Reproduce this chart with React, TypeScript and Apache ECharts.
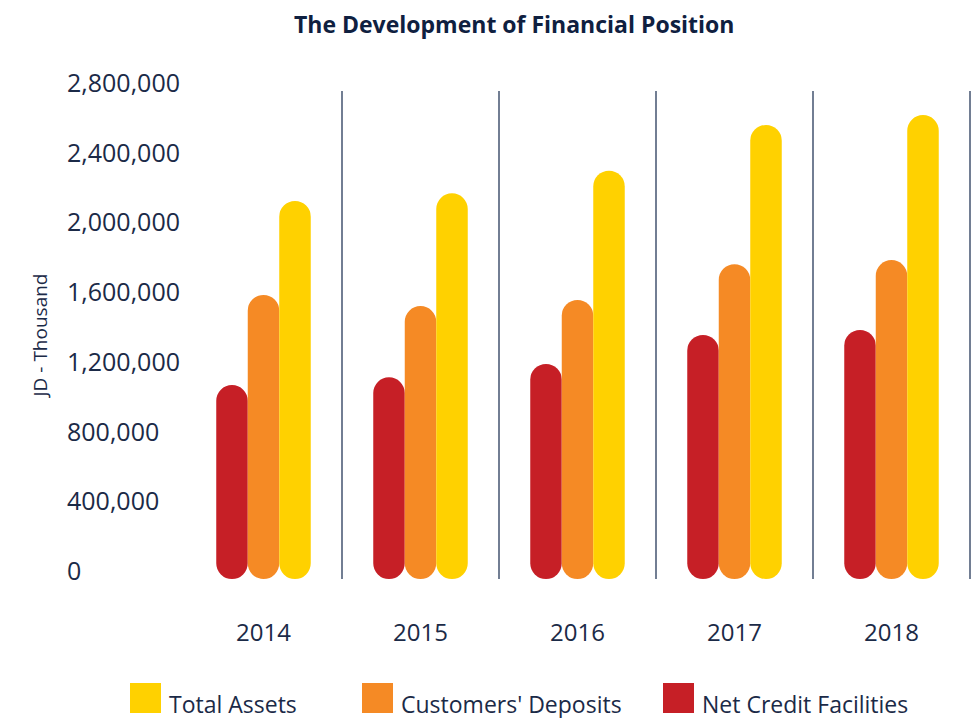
import React, { useEffect, useRef } from "react";
import * as echarts from "echarts";

const categories = ["2014", "2015", "2016", "2017", "2018"];
const netCredit = [1113000, 1157000, 1234000, 1400000, 1429000];
const deposits = [1630000, 1566000, 1601000, 1806000, 1830000];
const totalAssets = [2169000, 2213000, 2343000, 2605000, 2662000];
const yMin = 0;
const yMax = 2800000;
const yStep = 400000;

const NAVY = "#1b2a47";
const FONT = "'Open Sans', sans-serif";

export default function App() {
  const ref = useRef<HTMLDivElement>(null);
  useEffect(() => {
    if (!ref.current) return;
    const chart = echarts.init(ref.current, undefined, { renderer: "svg" });
    const legendText = {
      color: NAVY,
      fontSize: 23,
      fontFamily: FONT,
      rich: {
        a: { color: NAVY, fontSize: 23, fontFamily: FONT, padding: [11, 0, 0, 3] },
      },
    };
    const mkLegend = (name: string, left: number) => ({
      data: [name],
      left,
      top: 683,
      padding: 0,
      icon: "rect",
      itemWidth: 31,
      itemHeight: 30,
      itemGap: 8,
      formatter: (n: string) => "{a|" + n + "}",
      textStyle: legendText,
    });
    chart.setOption({
      animation: false,
      backgroundColor: "#ffffff",
      title: {
        text: "The Development of Financial Position",
        left: 289,
        top: 7,
        textStyle: { color: "#0f2040", fontSize: 23, fontWeight: "bold", fontFamily: FONT },
      },
      legend: [
        mkLegend("Total Assets", 130),
        mkLegend("Customers' Deposits", 362),
        mkLegend("Net Credit Facilities", 663),
      ],
      grid: { left: 185, right: 1, top: 91, bottom: 139, containLabel: false },
      xAxis: {
        type: "category",
        data: categories,
        axisLine: { show: false },
        axisTick: { show: false },
        axisLabel: { color: NAVY, fontSize: 24, fontFamily: FONT, margin: 40 },
        splitLine: {
          show: true,
          interval: (index: number) => index > 0,
          lineStyle: { color: "#43536f", width: 1.5 },
        },
      },
      yAxis: {
        type: "value",
        min: yMin,
        max: yMax,
        interval: yStep,
        name: "JD - Thousand",
        nameLocation: "middle",
        nameGap: 136,
        nameTextStyle: { color: NAVY, fontSize: 19, fontFamily: FONT },
        axisLine: { show: false },
        axisTick: { show: false },
        splitLine: { show: false },
        axisLabel: {
          color: NAVY,
          fontSize: 25,
          fontFamily: FONT,
          align: "left",
          verticalAlign: "bottom",
          lineHeight: 18,
          margin: 118,
          formatter: (v: number) => v.toLocaleString("en-US"),
        },
      },
      series: [
        {
          name: "Net Credit Facilities",
          type: "bar",
          data: netCredit,
          barWidth: 31.5,
          barGap: "0%",
          itemStyle: { color: "#c61f26", borderRadius: 16 },
        },
        {
          name: "Customers' Deposits",
          type: "bar",
          data: deposits,
          barWidth: 31.5,
          barGap: "0%",
          itemStyle: { color: "#f58a25", borderRadius: 16 },
        },
        {
          name: "Total Assets",
          type: "bar",
          data: totalAssets,
          barWidth: 31.5,
          barGap: "0%",
          itemStyle: { color: "#ffd100", borderRadius: 16 },
        },
      ],
    });
    return () => chart.dispose();
  }, []);
  return (
    <div
      ref={ref}
      style={{ position: "fixed", left: 0, top: 0, width: 971, height: 718 }}
    />
  );
}
